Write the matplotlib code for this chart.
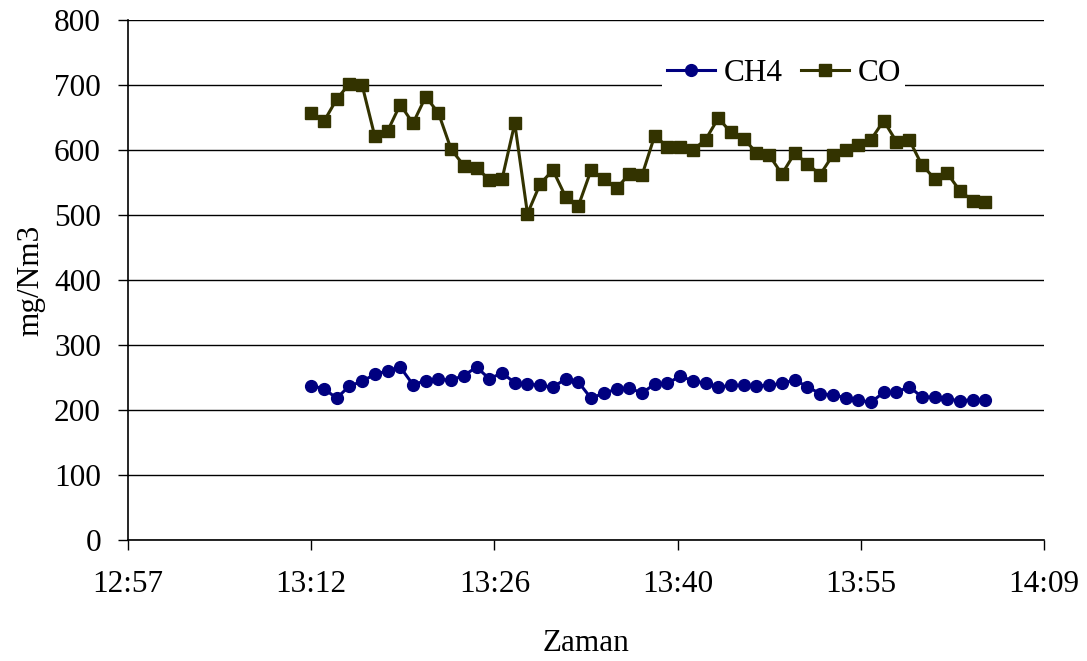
import matplotlib.pyplot as plt
from matplotlib.ticker import FixedLocator, FuncFormatter

plt.rcParams['font.family'] = ['Liberation Serif', 'DejaVu Serif']

# one reading per minute, starting 13:12
start_min = 13 * 60 + 12
n_points = 54
minutes = [start_min + i for i in range(n_points)]

ch4 = [237, 233, 218, 237, 244, 255, 260, 266, 239, 245,
       247, 246, 253, 266, 248, 257, 242, 240, 238, 235,
       248, 243, 218, 226, 232, 234, 226, 240, 241, 252,
       245, 241, 235, 238, 238, 237, 238, 241, 246, 236,
       225, 223, 219, 215, 212, 227, 227, 236, 220, 220,
       217, 214, 216, 215]

co = [657, 644, 678, 702, 700, 621, 629, 670, 641, 682,
      657, 601, 576, 573, 554, 555, 641, 502, 548, 569,
      528, 514, 569, 555, 541, 563, 561, 622, 605, 604,
      600, 616, 649, 627, 617, 596, 592, 563, 595, 579,
      562, 592, 600, 608, 616, 645, 613, 616, 577, 556,
      564, 537, 522, 520]

fs = 22.5

fig = plt.figure(figsize=(10.87, 6.61), dpi=100)
ax = fig.add_axes([128 / 1087, 1 - 540 / 661, 916 / 1087, 520 / 661])

ax.plot(minutes, ch4, color='#000080', lw=2.2, marker='o', ms=8.5,
        label='CH4', zorder=3)
ax.plot(minutes, co, color='#333300', lw=2.2, marker='s', ms=8,
        label='CO', zorder=3)

# time axis: ticks every 0.01 day (14.4 min) from 0.54 to 0.59
xticks = [0.54 * 1440 + 14.4 * k for k in range(6)]
ax.set_xlim(xticks[0], xticks[-1])
ax.xaxis.set_major_locator(FixedLocator(xticks))
ax.xaxis.set_major_formatter(
    FuncFormatter(lambda m, pos: f"{int(m // 60)}:{int(m % 60):02d}"))

ax.set_ylim(0, 800)
ax.set_yticks(range(0, 801, 100))
ax.grid(axis='y', color='black', lw=1)
ax.set_axisbelow(True)

for side in ('top', 'right'):
    ax.spines[side].set_visible(False)
ax.spines['left'].set_linewidth(1.2)
ax.spines['bottom'].set_linewidth(1.2)

ax.tick_params(axis='both', direction='out', length=7.5, width=1,
               labelsize=fs, colors='black')
ax.tick_params(axis='x', pad=14)
ax.tick_params(axis='y', pad=12)

ax.set_xlabel('Zaman', fontsize=fs, labelpad=22)
ax.set_ylabel('mg/Nm3', fontsize=fs, labelpad=6)

leg = ax.legend(loc='center', bbox_to_anchor=(0.716, 0.898), ncol=2,
                fontsize=fs, frameon=True, fancybox=False,
                edgecolor='white', facecolor='white', framealpha=1,
                handlelength=1.55, handletextpad=0.25, columnspacing=0.6,
                borderpad=0.15, borderaxespad=0)
leg.get_frame().set_linewidth(0)

fig.savefig('out.png', dpi=100, facecolor='white')
